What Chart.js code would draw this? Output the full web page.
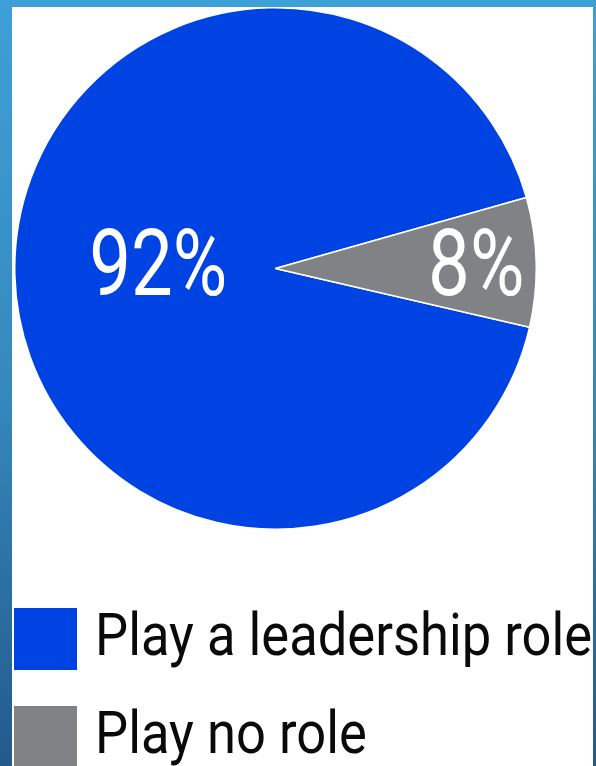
<!DOCTYPE html>
<html>
<head>
<meta charset="utf-8">
<title>Leadership role</title>
<script src="https://cdn.jsdelivr.net/npm/chart.js@4"></script>
<style>
    html, body {
        margin: 0;
        padding: 0;
    }
    body {
        width: 596px;
        height: 766px;
        overflow: hidden;
        position: relative;
        background: linear-gradient(to bottom, #3da0d6 0%, #3689bd 50%, #24598b 100%);
        font-family: Roboto, 'Noto Sans', sans-serif;
    }
    #panel {
        position: absolute;
        left: 12px;
        top: 7px;
        width: 581px;
        height: 759px;
        background: #ffffff;
    }
    #pieWrap {
        position: absolute;
        left: 14px;
        top: 7px;
        width: 523px;
        height: 523px;
    }
    .legend-row {
        position: absolute;
        left: 14px;
        height: 62px;
    }
    .legend-box {
        position: absolute;
        left: 0;
        top: 0;
        width: 63px;
        height: 62px;
    }
    .legend-text {
        position: absolute;
        left: 81px;
        top: -3px;
        font-size: 59px;
        line-height: 59px;
        font-weight: 400;
        color: #0a0a0a;
        white-space: nowrap;
        transform: scaleX(0.89);
        transform-origin: 0 0;
    }
</style>
</head>
<body>
<div id="panel"></div>
<div id="pieWrap"><canvas id="pieChart" width="523" height="523"></canvas></div>
<div id="legend"></div>

<script>
// 数据
const labels = ['Play a leadership role', 'Play no role'];
const values = [92, 8];
const colors = ['#0043e3', '#808285'];

// 百分比标签在半径上的位置 (比例)
const labelRadius = [0.45, 0.77];

const sliceLabels = {
    id: 'sliceLabels',
    afterDatasetsDraw(chart) {
        const ctx = chart.ctx;
        const meta = chart.getDatasetMeta(0);
        const total = values.reduce((a, b) => a + b, 0);
        ctx.save();
        ctx.fillStyle = '#ffffff';
        ctx.font = "400 93px Roboto, 'Noto Sans', sans-serif";
        ctx.textAlign = 'center';
        ctx.textBaseline = 'alphabetic';
        meta.data.forEach((arc, i) => {
            const p = arc.getProps(['x', 'y', 'startAngle', 'endAngle', 'outerRadius'], true);
            const mid = (p.startAngle + p.endAngle) / 2;
            const r = p.outerRadius * labelRadius[i];
            const pct = Math.round(values[i] / total * 100) + '%';
            // 窄体字：横向压缩
            ctx.save();
            ctx.translate(p.x + Math.cos(mid) * r, p.y + 26);
            ctx.scale(0.8, 1);
            ctx.fillText(pct, 0, 0);
            ctx.restore();
        });
        ctx.restore();
    }
};

new Chart(document.getElementById('pieChart'), {
    type: 'pie',
    data: {
        labels: labels,
        datasets: [{
            data: values,
            backgroundColor: colors,
            borderColor: '#ffffff',
            borderWidth: 1.5,
            hoverOffset: 0
        }]
    },
    options: {
        responsive: false,
        animation: false,
        rotation: 103,
        layout: { padding: 0 },
        plugins: {
            legend: { display: false },
            tooltip: { enabled: false }
        }
    },
    plugins: [sliceLabels]
});

// 图例
const legend = document.getElementById('legend');
labels.forEach((label, i) => {
    const row = document.createElement('div');
    row.className = 'legend-row';
    row.style.top = (608 + i * 98) + 'px';
    const box = document.createElement('div');
    box.className = 'legend-box';
    box.style.background = colors[i];
    const text = document.createElement('div');
    text.className = 'legend-text';
    text.textContent = label;
    row.appendChild(box);
    row.appendChild(text);
    legend.appendChild(row);
});
</script>
</body>
</html>
